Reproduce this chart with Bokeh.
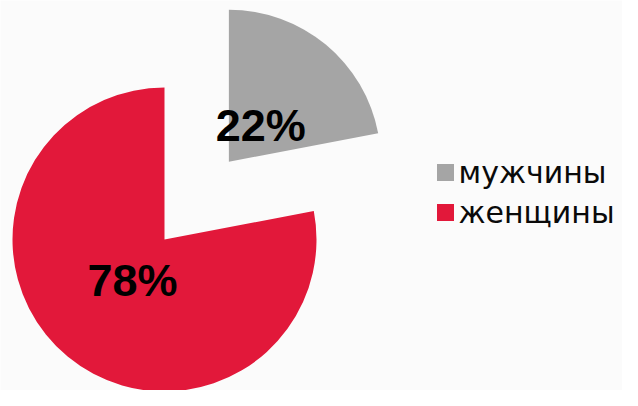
import math
from bokeh.plotting import figure
from bokeh.models import Range1d, ColumnDataSource
from bokeh.core.properties import value
from bokeh.embed import file_html
from bokeh.resources import INLINE

# ---- data ----
categories = ["мужчины", "женщины"]
shares = [22, 78]
labels = ["22%", "78%"]
colors = ["#a5a5a5", "#e2183a"]
exploded = [True, False]

W, H = 622, 390
p = figure(width=W, height=H, output_backend="svg", toolbar_location=None,
           x_range=Range1d(0, W), y_range=Range1d(0, H),
           min_border=0, outline_line_color=None)
p.axis.visible = False
p.grid.visible = False
p.background_fill_color = "#fbfbfb"
p.border_fill_color = "#fbfbfb"

cx, cy, R = 164, 151, 152
explode_dist = 101
label_frac = 0.33

total = float(sum(shares))
start = math.pi / 2
xs, ys, starts, ends, lx, ly = [], [], [], [], [], []
for s, ex in zip(shares, exploded):
    sweep = 2 * math.pi * s / total
    end = start - sweep
    mid = start - sweep / 2
    ox = explode_dist * math.cos(mid) if ex else 0
    oy = explode_dist * math.sin(mid) if ex else 0
    xs.append(cx + ox); ys.append(cy + oy)
    starts.append(start); ends.append(end)
    lx.append(cx + ox + label_frac * R * math.cos(mid))
    ly.append(cy + oy + label_frac * R * math.sin(mid) - 2)
    start = end

src = ColumnDataSource(dict(x=xs, y=ys, start=starts, end=ends, color=colors,
                            lx=lx, ly=ly, label=labels))
p.wedge(x="x", y="y", radius=R, start_angle="start", end_angle="end",
        direction="clock", fill_color="color", line_color=None, source=src)
p.text(x="lx", y="ly", text="label", source=src, text_align="center",
       text_baseline="middle", text_font=value("Liberation Sans"),
       text_font_style="bold", text_font_size="45px", text_color="#000000")

# legend
leg_x, leg_y0, leg_dy = 445, 218, 40
lsrc = ColumnDataSource(dict(
    x=[leg_x] * len(categories),
    y=[leg_y0 - i * leg_dy for i in range(len(categories))],
    tx=[leg_x + 13] * len(categories),
    name=categories, color=colors))
p.rect(x="x", y="y", width=17, height=17, fill_color="color", line_color=None,
       source=lsrc)
p.text(x="tx", y="y", text="name", source=lsrc, text_align="left",
       text_baseline="middle", text_font=value("DejaVu Sans"),
       text_font_size="30px", text_color="#0a0a0a")

open("out.html", "w").write(file_html(p, INLINE))
